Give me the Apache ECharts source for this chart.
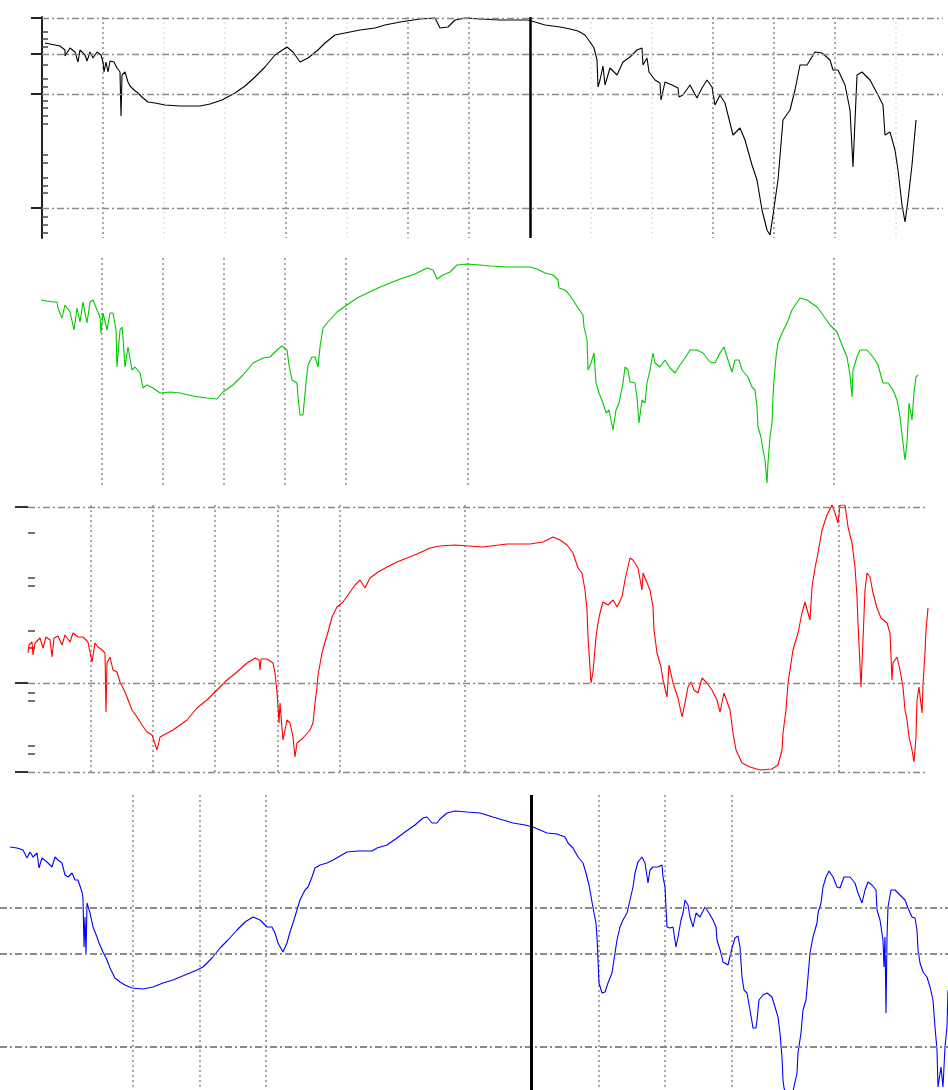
<!DOCTYPE html>
<html><head><meta charset="utf-8">
<script src="https://cdn.jsdelivr.net/npm/echarts@6/dist/echarts.min.js"></script>
<style>html,body{margin:0;padding:0;background:#fff}#c{width:948px;height:1090px}</style>
</head><body><div id="c"></div><script>
// ---- data (sample index, relative intensity) ----
const blackSpectrum = [[3,195],[13,193],[18,192],[23,188],[23,182],[28,190],[33,186],[36,176],[38,188],[43,183],[45,177],[48,186],[51,180],[55,186],[59,183],[61,176],[62,166],[64,176],[66,166],[68,177],[72,176],[75,170],[78,166],[79,122],[80,163],[83,166],[86,156],[88,152],[92,148],[96,145],[101,140],[106,136],[113,135],[123,133],[138,132],[158,132],[168,134],[180,138],[193,145],[203,152],[213,161],[223,171],[233,183],[245,191],[251,186],[258,176],[266,180],[276,188],[283,195],[293,203],[303,205],[318,208],[333,210],[343,213],[358,216],[378,219],[393,220],[398,210],[406,211],[413,218],[423,220],[438,219],[458,218],[486,218],[493,216],[503,213],[518,211],[528,209],[536,207],[543,203],[548,196],[552,190],[555,178],[556,151],[558,158],[561,172],[563,153],[568,170],[575,163],[581,176],[588,181],[595,188],[600,190],[601,173],[605,180],[607,166],[613,158],[618,155],[619,138],[623,156],[630,153],[636,150],[637,141],[641,143],[648,153],[655,140],[660,150],[665,158],[670,151],[673,133],[678,143],[683,135],[691,103],[698,110],[703,98],[710,73],[715,58],[720,28],[725,8],[728,3],[731,23],[736,58],[741,118],[748,128],[753,148],[758,173],[765,173],[773,186],[780,185],[788,178],[791,168],[796,168],[803,153],[808,128],[810,128],[811,71],[815,163],[820,166],[828,158],[836,143],[841,133],[843,103],[848,106],[853,88],[856,68],[860,33],[863,16],[866,38],[870,73],[874,118]];

const greenSpectrum = [[0,185],[6,184],[12,183],[16,183],[17,177],[21,167],[24,180],[29,173],[33,155],[36,177],[39,163],[42,183],[46,162],[49,183],[52,185],[56,175],[59,168],[60,152],[62,172],[66,155],[69,172],[72,172],[75,155],[76,118],[79,155],[81,158],[82,148],[84,118],[87,138],[91,115],[94,118],[99,112],[102,97],[106,100],[112,97],[119,92],[129,93],[139,92],[152,89],[166,87],[176,86],[182,93],[192,100],[202,110],[212,122],[222,127],[229,128],[236,135],[241,139],[246,135],[248,120],[251,105],[256,102],[257,88],[259,70],[262,70],[265,102],[267,120],[271,128],[274,128],[277,118],[279,138],[282,157],[287,163],[296,173],[306,180],[316,187],[337,197],[349,202],[362,207],[374,211],[386,217],[392,215],[396,206],[402,210],[409,213],[416,220],[426,221],[439,220],[449,219],[469,218],[489,218],[496,216],[504,212],[512,210],[517,205],[518,197],[524,195],[527,192],[532,185],[537,177],[542,170],[543,158],[546,145],[547,115],[550,122],[553,132],[555,102],[558,92],[562,82],[565,72],[568,75],[572,55],[575,75],[578,82],[582,102],[584,118],[587,115],[589,103],[594,102],[596,88],[598,62],[601,85],[604,82],[606,102],[609,115],[612,132],[614,122],[619,118],[624,125],[629,117],[634,112],[639,120],[644,127],[649,135],[656,135],[662,132],[669,123],[674,122],[679,132],[683,138],[686,128],[691,113],[694,125],[698,125],[701,115],[707,108],[711,98],[714,95],[716,78],[717,58],[720,48],[722,35],[724,25],[726,2],[727,22],[729,48],[731,62],[732,88],[733,105],[735,128],[737,142],[741,152],[746,162],[751,175],[759,187],[766,185],[776,178],[782,170],[789,160],[796,153],[801,140],[806,128],[809,110],[811,88],[812,115],[816,128],[819,135],[826,135],[832,128],[837,120],[842,102],[847,102],[852,95],[856,85],[859,68],[862,42],[864,25],[866,42],[868,82],[871,65],[873,92],[875,108],[877,110]];

const redSpectrum = [[0,119],[1,127],[4,130],[5,117],[7,129],[12,134],[15,124],[18,135],[22,132],[24,115],[26,134],[30,136],[34,127],[37,137],[39,139],[42,130],[45,139],[50,135],[55,135],[60,130],[64,110],[67,129],[70,125],[74,122],[77,119],[78,60],[79,109],[82,115],[85,102],[89,100],[92,90],[97,80],[104,62],[109,55],[114,47],[119,40],[124,37],[129,22],[132,35],[145,42],[159,52],[169,64],[179,72],[189,82],[199,92],[209,100],[219,109],[227,114],[231,112],[232,102],[233,113],[239,113],[245,109],[247,99],[249,80],[251,49],[252,69],[254,44],[255,32],[259,52],[262,49],[265,35],[267,15],[269,29],[275,34],[282,42],[285,49],[287,69],[289,85],[290,97],[294,119],[297,130],[300,140],[304,155],[309,165],[315,170],[320,177],[327,187],[332,192],[337,184],[342,194],[350,200],[359,205],[369,210],[379,214],[389,218],[402,224],[412,226],[427,227],[455,225],[479,228],[502,228],[515,230],[525,235],[532,232],[539,227],[545,219],[550,204],[554,199],[557,182],[559,162],[560,135],[563,89],[565,100],[568,135],[570,149],[572,159],[575,170],[580,167],[585,172],[589,165],[594,175],[597,192],[602,214],[605,212],[610,204],[614,182],[615,199],[622,182],[625,165],[626,142],[629,119],[633,105],[635,92],[639,75],[641,107],[645,89],[650,74],[654,55],[657,69],[660,85],[663,90],[666,82],[670,79],[674,94],[679,89],[684,82],[689,72],[692,60],[696,79],[702,62],[705,39],[708,22],[714,9],[722,5],[732,2],[744,3],[750,7],[754,22],[755,39],[758,62],[760,89],[762,102],[765,122],[770,139],[774,159],[777,170],[780,159],[782,152],[784,185],[787,204],[790,219],[794,242],[799,257],[804,267],[807,259],[810,249],[812,267],[817,267],[820,245],[824,229],[827,205],[829,175],[830,149],[833,85],[835,132],[837,182],[839,199],[842,195],[845,179],[849,164],[853,154],[859,149],[862,139],[864,92],[865,109],[869,115],[872,102],[875,85],[877,62],[879,52],[881,35],[884,22],[886,10],[888,35],[889,72],[891,85],[894,59],[895,87],[897,120],[898,142],[900,164]];

const blueSpectrum = [[10,243],[17,242],[23,240],[27,232],[30,238],[33,233],[37,237],[39,222],[42,232],[47,228],[52,223],[55,233],[58,230],[62,227],[65,215],[68,213],[72,217],[75,210],[78,210],[82,198],[83,192],[84,143],[85,173],[86,135],[87,187],[90,177],[93,163],[97,153],[99,147],[103,138],[107,130],[110,122],[115,112],[120,108],[125,105],[132,102],[143,101],[153,103],[163,107],[173,110],[185,115],[197,120],[203,123],[212,132],[220,142],[228,150],[237,160],[245,168],[253,173],[260,170],[267,163],[272,163],[275,157],[278,147],[283,138],[287,147],[290,158],[293,167],[297,180],[300,190],[305,200],[308,203],[312,213],[315,222],[320,225],[327,227],[333,230],[347,238],[358,239],[372,239],[377,242],[387,245],[397,252],[405,258],[415,265],[423,272],[427,273],[432,267],[437,267],[440,271],[447,277],[455,279],[467,278],[480,277],[493,273],[503,270],[513,267],[525,265],[533,263],[540,260],[547,257],[557,256],[565,253],[568,247],[573,242],[578,233],[583,227],[586,217],[589,205],[592,188],[594,177],[596,167],[597,153],[598,130],[599,107],[602,97],[605,98],[608,107],[612,117],[615,137],[617,150],[620,163],[623,170],[627,177],[630,190],[633,203],[635,217],[638,228],[642,233],[645,227],[648,207],[650,220],[653,223],[658,223],[662,225],[663,213],[665,203],[666,183],[667,163],[670,162],[673,163],[676,143],[678,153],[681,170],[683,177],[685,190],[688,185],[690,173],[693,163],[696,177],[700,173],[705,183],[709,177],[713,170],[716,163],[717,150],[721,137],[723,128],[728,125],[732,142],[735,152],[738,154],[740,143],[742,113],[744,100],[747,97],[750,80],[753,62],[756,62],[757,70],[759,90],[763,95],[767,97],[772,93],[775,83],[778,73],[780,57],[782,33],[783,10],[784,2],[790,-15],[797,17],[798,37],[801,57],[803,80],[806,90],[808,113],[810,137],[813,153],[817,167],[818,177],[821,187],[823,203],[826,213],[829,219],[833,213],[837,203],[840,202],[844,213],[850,213],[855,207],[858,197],[862,187],[865,200],[868,208],[872,205],[876,200],[877,180],[880,170],[883,150],[884,123],[885,153],[886,77],[887,153],[888,183],[891,200],[895,200],[900,195],[905,190],[908,182],[912,173],[915,172],[917,160],[918,140],[920,127],[923,118],[927,113],[930,103],[933,90],[935,63],[937,40],[938,3],[941,23],[943,3],[945,43],[947,63],[948,100]];

// reference (horizontal) levels and axis ticks
const blackLevels = [220, 184, 144, 30];
const blackMajorTicks = [220, 184, 144, 30];
const blackMinorTicks = [206,199,191,173,159,151,137,130,122,114,83,75,60,52,45,21,13,5];
const redLevels = [265, 89, 0];
const redMajorTicks = [265, 89, 0];
const redMinorTicks = [239,194,186,141,124,79,71,26,18];
const blueLevels = [182, 136, 43];
const blackMarker = 488;
const blueMarker = 531;

// ---- styles ----
const D = '#8a8a8a', F = '#e4e4e4', T = 'transparent';
const blackGridColors = [T,D,F,F,D,F,D,D,T,F,F,D,D,D,F,T];
const greenGridColors = [T,D,D,D,D,D,T,D,T,T,T,T,T,D,T,T];
const redGridColors   = [T,D,D,D,D,D,T,D,T,T,T,T,T,D,T,T];
const blueGridColors  = [T,T,D,D,D,T,T,T,T,D,D,D,T,T,T,T];

function xAx(gi, max, interval, colors) {
  return {type:'value', gridIndex:gi, min:0, max:max, interval:interval,
    axisLine:{show:false}, axisTick:{show:false}, axisLabel:{show:false},
    splitLine:{show:true, lineStyle:{color:colors, type:[2,3], width:1.5}}};
}
function yAx(gi, max, extra) {
  return Object.assign({type:'value', gridIndex:gi, min:0, max:max,
    axisLine:{show:false}, axisTick:{show:false}, axisLabel:{show:false},
    splitLine:{show:false}}, extra||{});
}
const hLine = (w) => ({color:'#8a8a8a', type:[7,3,2,3], width:w});
function levels(arr, w) { return arr.map(v => ({yAxis:v, lineStyle:hLine(w)})); }
function series(name, data, color, xi, marks) {
  return {name, type:'line', xAxisIndex:xi, yAxisIndex:xi, data, showSymbol:false,
    symbol:'none', clip:true, lineStyle:{color, width:1.1}, itemStyle:{color},
    emphasis:{disabled:true}, animation:false,
    markLine:{silent:true, symbol:['none','none'], label:{show:false}, animation:false, data:marks}};
}

const chart = echarts.init(document.getElementById('c'), null, {renderer:'canvas'});
chart.setOption({
  backgroundColor:'#fff',
  animation:false,
  grid:[
    {left:42, top:17, width:901, height:221},
    {left:41, top:258, width:902, height:227},
    {left:28, top:505, width:900, height:267},
    {left:0, top:795, width:948, height:295}
  ],
  xAxis:[
    xAx(0, 901, 61, blackGridColors),
    xAx(1, 902, 61, greenGridColors),
    xAx(2, 900, 62.4, redGridColors),
    xAx(3, 948, 66.5, blueGridColors),
    Object.assign(xAx(0, 901, 61, [T]), {splitLine:{show:false}}),
    Object.assign(xAx(2, 900, 62.4, [T]), {splitLine:{show:false}})
  ],
  yAxis:[
    yAx(0, 221, {axisLine:{show:true, lineStyle:{color:'#222', width:2}},
      axisTick:{show:true, inside:false, length:11, lineStyle:{color:'#222', width:2}, customValues:blackMajorTicks}}),
    yAx(1, 227),
    yAx(2, 267, {axisTick:{show:true, inside:false, length:13, lineStyle:{color:'#333', width:2}, customValues:redMajorTicks}}),
    yAx(3, 295),
    yAx(0, 221, {axisTick:{show:true, inside:false, length:6, lineStyle:{color:'#444', width:1.5}, customValues:blackMinorTicks}}),
    yAx(2, 267, {axisTick:{show:true, inside:false, length:7, lineStyle:{color:'#444', width:1.5}, customValues:redMinorTicks}})
  ],
  series:[
    series('black', blackSpectrum, '#000', 0,
      levels(blackLevels, 1.3).concat([{xAxis:blackMarker, lineStyle:{color:'#000', type:'solid', width:2.5}}])),
    series('green', greenSpectrum, '#00c800', 1, []),
    series('red', redSpectrum, '#ff0000', 2, levels(redLevels, 1.3)),
    series('blue', blueSpectrum, '#0000ff', 3,
      levels(blueLevels, 2).concat([{xAxis:blueMarker, lineStyle:{color:'#000', type:'solid', width:3}}]))
  ]
});
</script></body></html>
